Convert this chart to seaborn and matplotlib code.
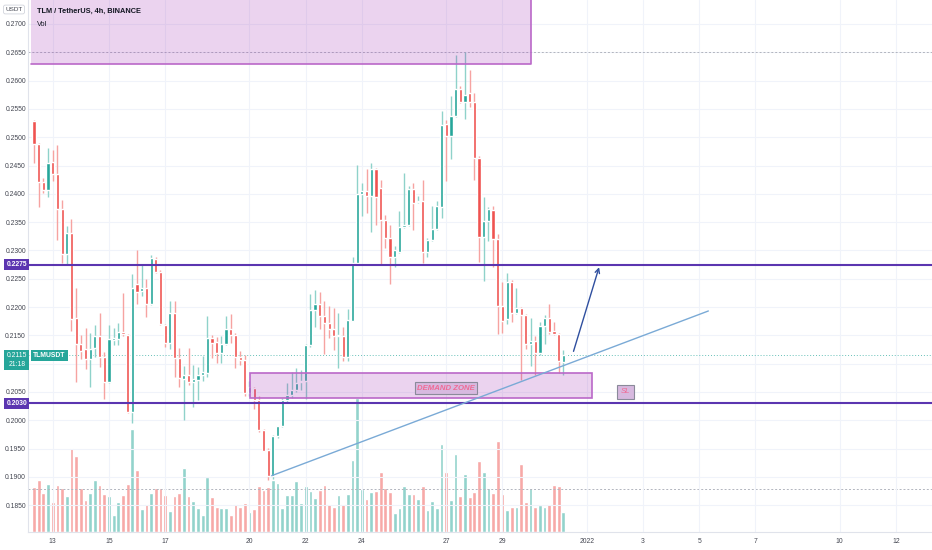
import numpy as np
import pandas as pd
import matplotlib
matplotlib.use("Agg")
import matplotlib.pyplot as plt
from matplotlib.patches import Rectangle
import seaborn as sns

# 4h candles of TLM/USDT
start_time = pd.Timestamp("2021-12-12 08:00")
opens = [0.2528, 0.2488, 0.2420, 0.2406, 0.2456, 0.2435, 0.2374, 0.2294, 0.2330, 0.2180,
         0.2134, 0.2125, 0.2109, 0.2128, 0.2148, 0.2111, 0.2068, 0.2142, 0.2144, 0.2156,
         0.2151, 0.2015, 0.2240, 0.2228, 0.2233, 0.2205, 0.2285, 0.2261, 0.2169, 0.2137,
         0.2189, 0.2110, 0.2073, 0.2080, 0.2067, 0.2071, 0.2079, 0.2083, 0.2145, 0.2139,
         0.2119, 0.2135, 0.2162, 0.2151, 0.2112, 0.2106, 0.2048, 0.2057, 0.2036, 0.1983,
         0.1948, 0.1902, 0.1972, 0.1989, 0.2036, 0.2044, 0.2053, 0.2067, 0.2070, 0.2133,
         0.2195, 0.2205, 0.2184, 0.2171, 0.2161, 0.2149, 0.2149, 0.2111, 0.2176, 0.2277,
         0.2400, 0.2405, 0.2397, 0.2444, 0.2410, 0.2354, 0.2322, 0.2288, 0.2298, 0.2342,
         0.2345, 0.2408, 0.2385, 0.2387, 0.2298, 0.2319, 0.2338, 0.2377, 0.2523, 0.2503,
         0.2537, 0.2585, 0.2562, 0.2578, 0.2562, 0.2464, 0.2324, 0.2352, 0.2372, 0.2320,
         0.2201, 0.2179, 0.2245, 0.2189, 0.2198, 0.2185, 0.2135, 0.2140, 0.2118, 0.2167,
         0.2181, 0.2157, 0.2152, 0.2102]
highs = [0.2530, 0.2490, 0.2428, 0.2481, 0.2478, 0.2486, 0.2389, 0.2344, 0.2355, 0.2233,
         0.2151, 0.2163, 0.2154, 0.2168, 0.2189, 0.2121, 0.2168, 0.2163, 0.2171, 0.2224,
         0.2152, 0.2259, 0.2301, 0.2276, 0.2249, 0.2292, 0.2289, 0.2265, 0.2170, 0.2210,
         0.2210, 0.2127, 0.2096, 0.2127, 0.2098, 0.2094, 0.2113, 0.2184, 0.2151, 0.2147,
         0.2149, 0.2184, 0.2187, 0.2154, 0.2122, 0.2116, 0.2069, 0.2058, 0.2042, 0.1985,
         0.1951, 0.1974, 0.1990, 0.2039, 0.2066, 0.2086, 0.2092, 0.2089, 0.2135, 0.2223,
         0.2230, 0.2227, 0.2210, 0.2202, 0.2199, 0.2189, 0.2165, 0.2196, 0.2288, 0.2451,
         0.2419, 0.2444, 0.2454, 0.2446, 0.2425, 0.2363, 0.2345, 0.2307, 0.2369, 0.2436,
         0.2413, 0.2419, 0.2397, 0.2425, 0.2322, 0.2378, 0.2387, 0.2547, 0.2531, 0.2572,
         0.2645, 0.2590, 0.2650, 0.2619, 0.2578, 0.2466, 0.2395, 0.2377, 0.2379, 0.2329,
         0.2244, 0.2260, 0.2248, 0.2233, 0.2200, 0.2187, 0.2181, 0.2148, 0.2173, 0.2185,
         0.2205, 0.2174, 0.2154, 0.2124]
lows = [0.2454, 0.2376, 0.2402, 0.2395, 0.2423, 0.2319, 0.2277, 0.2274, 0.2157, 0.2068,
        0.2108, 0.2090, 0.2058, 0.2112, 0.2094, 0.2037, 0.2065, 0.2133, 0.2133, 0.2148,
        0.2012, 0.1995, 0.2206, 0.2220, 0.2182, 0.2204, 0.2260, 0.2168, 0.2129, 0.2125,
        0.2077, 0.2058, 0.2001, 0.2063, 0.2024, 0.2035, 0.2070, 0.2076, 0.2110, 0.2101,
        0.2101, 0.2133, 0.2136, 0.2092, 0.2098, 0.2042, 0.2042, 0.2020, 0.1980, 0.1945,
        0.1895, 0.1897, 0.1968, 0.1988, 0.2031, 0.2040, 0.2050, 0.2054, 0.2038, 0.2130,
        0.2165, 0.2162, 0.2117, 0.2145, 0.2124, 0.2092, 0.2105, 0.2105, 0.2175, 0.2275,
        0.2360, 0.2366, 0.2333, 0.2345, 0.2274, 0.2304, 0.2241, 0.2270, 0.2296, 0.2340,
        0.2343, 0.2336, 0.2383, 0.2277, 0.2289, 0.2317, 0.2336, 0.2358, 0.2423, 0.2462,
        0.2535, 0.2560, 0.2532, 0.2554, 0.2425, 0.2280, 0.2246, 0.2316, 0.2271, 0.2152,
        0.2154, 0.2170, 0.2174, 0.2187, 0.2071, 0.2126, 0.2095, 0.2080, 0.2116, 0.2134,
        0.2153, 0.2150, 0.2083, 0.2080]
closes = [0.2488, 0.2420, 0.2407, 0.2455, 0.2435, 0.2374, 0.2293, 0.2330, 0.2179, 0.2134,
          0.2123, 0.2109, 0.2126, 0.2148, 0.2111, 0.2068, 0.2144, 0.2145, 0.2156, 0.2152,
          0.2015, 0.2233, 0.2226, 0.2234, 0.2205, 0.2286, 0.2261, 0.2170, 0.2137, 0.2189,
          0.2110, 0.2074, 0.2080, 0.2067, 0.2073, 0.2080, 0.2086, 0.2145, 0.2136, 0.2119,
          0.2135, 0.2162, 0.2151, 0.2112, 0.2106, 0.2048, 0.2058, 0.2036, 0.1983, 0.1946,
          0.1902, 0.1972, 0.1989, 0.2035, 0.2045, 0.2053, 0.2066, 0.2070, 0.2133, 0.2195,
          0.2205, 0.2184, 0.2171, 0.2161, 0.2149, 0.2150, 0.2111, 0.2177, 0.2277, 0.2400,
          0.2405, 0.2397, 0.2443, 0.2395, 0.2354, 0.2322, 0.2288, 0.2301, 0.2341, 0.2345,
          0.2408, 0.2384, 0.2387, 0.2298, 0.2319, 0.2338, 0.2378, 0.2522, 0.2503, 0.2537,
          0.2585, 0.2562, 0.2575, 0.2562, 0.2463, 0.2324, 0.2352, 0.2373, 0.2320, 0.2201,
          0.2175, 0.2244, 0.2189, 0.2198, 0.2185, 0.2135, 0.2140, 0.2118, 0.2167, 0.2181,
          0.2155, 0.2152, 0.2104, 0.2115]
# volume in K (relative, no scale shown on the chart)
volumes = [135, 157, 117, 145, 89, 142, 133, 109, 252, 227,
           133, 95, 117, 156, 141, 115, 109, 52, 91, 111,
           145, 310, 186, 69, 85, 117, 133, 133, 112, 63,
           108, 118, 193, 109, 93, 71, 52, 165, 104, 76,
           71, 71, 50, 85, 74, 87, 61, 70, 139, 127,
           135, 157, 148, 71, 111, 112, 154, 87, 139, 122,
           102, 127, 141, 83, 76, 111, 85, 113, 216, 403,
           129, 99, 119, 123, 179, 132, 119, 58, 71, 137,
           113, 113, 100, 138, 65, 93, 73, 263, 179, 97,
           233, 109, 175, 104, 121, 212, 179, 133, 118, 272,
           115, 65, 74, 76, 203, 89, 132, 74, 82, 74,
           84, 141, 138, 59]

tick_dates = ["2021-12-13", "2021-12-15", "2021-12-17", "2021-12-20", "2021-12-22",
              "2021-12-24", "2021-12-27", "2021-12-29", "2022-01-01", "2022-01-03",
              "2022-01-05", "2022-01-07", "2022-01-10", "2022-01-12"]
tick_labels = ["13", "15", "17", "20", "22", "24", "27", "29", "2022", "3", "5", "7", "10", "12"]
price_ticks = np.round(np.arange(0.1850, 0.27001, 0.005), 4)

resistance = 0.2275
support = 0.2030
last_price = 0.2115
countdown = "21:18"
top_line = 0.2650
vol_line = 129

# drawn objects, in candle index / price units
supply_zone = (-0.6, 106.1, 0.2629, 0.2800)
demand_zone = (46.1, 119.1, 0.2040, 0.2084)
trend_start = (50.75, 0.1902)
trend_end = (143.96, 0.2193)
arrow_start = (115.0, 0.2117)
arrow_end = (120.8, 0.2275)
demand_label = (88.0, 0.20569)
sl_label = (126.3, 0.2050)

up_col = "#26a69a"
down_col = "#ef5350"
text_col = "#434651"
level_col = "#5b35b0"

sns.set_theme(style="white")
plt.rcParams["font.family"] = ["Liberation Sans", "DejaVu Sans"]

df = pd.DataFrame({"open": opens, "high": highs, "low": lows, "close": closes, "vol": volumes})
df["idx"] = np.arange(len(df))
df["dir"] = np.where(df["close"] >= df["open"], "up", "down")
tick_idx = [(pd.Timestamp(d) - start_time) / pd.Timedelta(hours=4) for d in tick_dates]

fig = plt.figure(figsize=(9.32, 5.5), dpi=100, facecolor="white")
ax = fig.add_axes([28 / 932, 18 / 550, 904 / 932, 532 / 550])
axv = ax.twinx()
ax.set_zorder(2)
axv.set_zorder(1)
ax.patch.set_visible(False)

# volume pane, scaled so the bars fill only the lower quarter
sns.barplot(data=df, x="idx", y="vol", hue="dir", palette={"up": "#92d3cc", "down": "#f7a9a7"},
            native_scale=True, dodge=False, width=0.8, errorbar=None, saturation=1,
            legend=False, ax=axv)
axv.set_ylim(0, 1596)
axv.set_yticks([])
axv.set_xlabel("")
axv.set_ylabel("")
for s in axv.spines.values():
    s.set_visible(False)
axv.axhline(vol_line, color="#b2b5be", lw=0.7, ls=(0, (2, 2)))

# candles
wick_cols = np.where(df["dir"] == "up", "#8fd2ca", "#f6a3a1")
body_cols = np.where(df["dir"] == "up", up_col, down_col)
ax.vlines(df["idx"], df["low"], df["high"], colors=wick_cols, lw=1.0, zorder=3)
body_low = df[["open", "close"]].min(axis=1)
body_h = (df["close"] - df["open"]).abs().clip(lower=0.00008)
ax.bar(df["idx"], body_h, bottom=body_low, width=0.68, color=body_cols, zorder=4)

ax.set_xlim(-1.28, 191.7)
ax.set_ylim(0.18025, 0.27424)
# the 0.2100 label sits under the last-price tag
ylabels = ["" if abs(t - 0.21) < 1e-6 else f"{t:.4f}" for t in price_ticks]
ax.set_yticks(price_ticks, ylabels)
ax.set_xticks(tick_idx, tick_labels)
ax.grid(True, color="#f0f3fa", lw=0.8, zorder=0)
ax.tick_params(axis="y", length=0, pad=1.5, labelsize=4.9, labelcolor=text_col)
ax.tick_params(axis="x", length=0, pad=4, labelsize=4.9, labelcolor=text_col)
for side in ["top", "right"]:
    ax.spines[side].set_visible(False)
for side in ["left", "bottom"]:
    ax.spines[side].set_color("#e0e3eb")
    ax.spines[side].set_linewidth(0.8)

# zones
x0, x1, y0, y1 = supply_zone
ax.add_patch(Rectangle((x0, y0), x1 - x0, y1 - y0, fc="#9c27b0", alpha=0.2, ec="none", zorder=5))
ax.plot([x0, x1, x1], [y0, y0, y1], color="#ba68c8", lw=1.2, zorder=5)
x0, x1, y0, y1 = demand_zone
ax.add_patch(Rectangle((x0, y0), x1 - x0, y1 - y0, fc="#9c27b0", alpha=0.2, ec="none", zorder=5))
ax.add_patch(Rectangle((x0, y0), x1 - x0, y1 - y0, fill=False, ec="#ba68c8", lw=1.2, zorder=5))

# levels
ax.axhline(resistance, color=level_col, lw=1.5, zorder=6)
ax.axhline(support, color=level_col, lw=1.5, zorder=6)
ax.axhline(top_line, color="#b2b5be", lw=0.7, ls=(0, (2, 2)), zorder=2)
ax.axhline(last_price, color=up_col, lw=0.7, ls=(0, (1, 2)), alpha=0.7, zorder=2)

# drawings
ax.plot([trend_start[0], trend_end[0]], [trend_start[1], trend_end[1]],
        color="#7aaad6", lw=1.0, zorder=7)
ax.annotate("", xy=arrow_end, xytext=arrow_start,
            arrowprops=dict(arrowstyle="->", color="#2f4f9f", lw=1.0, mutation_scale=8), zorder=7)
ax.text(*demand_label, "DEMAND ZONE", fontsize=5.6, style="italic", fontweight="bold",
        color="#ef6a95", ha="center", va="center", zorder=8,
        bbox=dict(boxstyle="square,pad=0.3", fc="#d7b9df", ec="#8a8a9a", lw=0.8))
ax.text(*sl_label, "SL", fontsize=5.6, style="italic", color="#ef6a95", ha="center", va="center",
        zorder=8, bbox=dict(boxstyle="square,pad=0.45", fc="#d7b9df", ec="#8a8a9a", lw=0.8))

# axis tags
ytr = ax.get_yaxis_transform()
for lvl in [resistance, support]:
    ax.text(-0.0125, lvl, f"{lvl:.4f}", transform=ytr, ha="center", va="center", color="white",
            fontsize=4.9, fontweight="bold", clip_on=False, zorder=10,
            bbox=dict(boxstyle="square,pad=0.3", fc=level_col, ec="none"))
ax.annotate(f"{last_price:.4f}\n{countdown}", xy=(-0.0125, last_price), xycoords=ytr,
            xytext=(0, -3.6), textcoords="offset points", ha="center", va="center",
            color="white", fontsize=4.9, linespacing=1.3, annotation_clip=False, zorder=10,
            bbox=dict(boxstyle="square,pad=0.3", fc=up_col, ec="none"))
ax.text(0.0058, last_price, "TLMUSDT", transform=ytr, ha="left", va="center", color="white",
        fontsize=4.9, fontweight="bold", zorder=10,
        bbox=dict(boxstyle="square,pad=0.3", fc=up_col, ec="none"))

fig.text(14 / 932, 1 - 9.5 / 550, "USDT", ha="center", va="center", fontsize=4.6, color=text_col,
         bbox=dict(boxstyle="round,pad=0.3", fc="white", ec="#d1d4dc", lw=0.6))
fig.text(37 / 932, 1 - 11 / 550, "TLM / TetherUS, 4h, BINANCE", ha="left", va="center",
         fontsize=5.3, fontweight="bold", color="#131722")
fig.text(37 / 932, 1 - 24 / 550, "Vol", ha="left", va="center", fontsize=5.3, color="#131722")

fig.savefig("out.png", dpi=100, facecolor="white")
